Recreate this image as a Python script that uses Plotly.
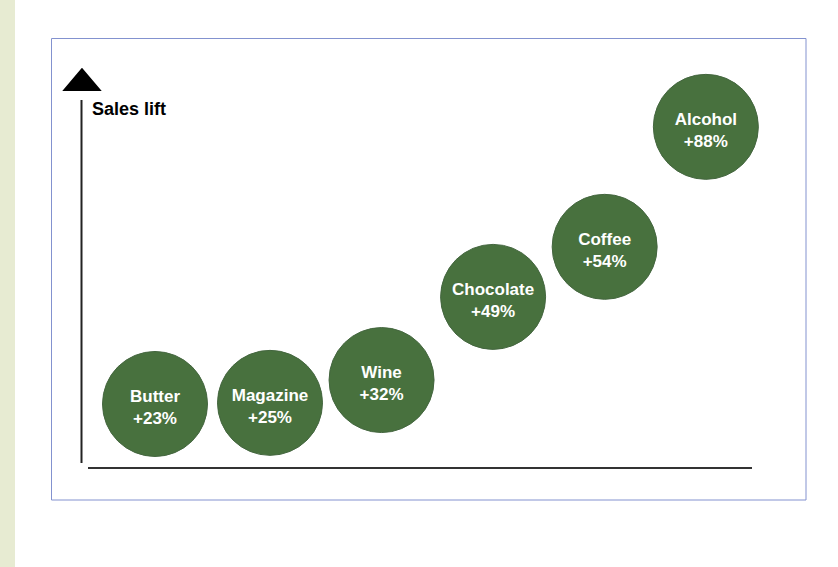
import plotly.graph_objects as go

# ---- data ----
categories = ["Butter", "Magazine", "Wine", "Chocolate", "Coffee", "Alcohol"]
lift_pct = [23, 25, 32, 49, 54, 88]
# position of each bubble along the (unscaled) axes
x_level = [1.0, 2.0, 2.97, 3.94, 4.91, 5.79]
y_level = [17.4, 17.7, 23.9, 46.5, 60.1, 92.7]
y_title = "Sales lift"

W, H = 838, 567
Y_PX = 3.68  # pixels per y unit
TEXT_SHIFT = 5 / Y_PX  # labels sit a little below bubble centre


def px(x):
    return x / W


def py(y):
    return 1 - y / H


labels = [f"<b>{c}</b><br><b>+{v}%</b>" for c, v in zip(categories, lift_pct)]

fig = go.Figure()
fig.add_trace(go.Scatter(
    x=x_level, y=y_level, mode="markers",
    marker=dict(size=105, color="#48713e", line=dict(width=1, color="#44663f")),
    hoverinfo="skip", cliponaxis=False,
))
fig.add_trace(go.Scatter(
    x=x_level, y=[v - TEXT_SHIFT for v in y_level], mode="text",
    text=labels, textposition="middle center",
    textfont=dict(family="Liberation Sans, Arial, sans-serif", size=17, color="white"),
    hoverinfo="skip", cliponaxis=False,
))

shapes = [
    # left page strip
    dict(type="rect", xref="paper", yref="paper", x0=px(0), x1=px(15), y0=py(0), y1=py(H),
         fillcolor="#e7ebd2", line=dict(width=0), layer="below"),
    # frame
    dict(type="rect", xref="paper", yref="paper", x0=px(51.5), x1=px(806), y0=py(38.5), y1=py(500),
         fillcolor="rgba(0,0,0,0)", line=dict(width=1, color="#8392cf"), layer="below"),
    # y axis line
    dict(type="line", xref="paper", yref="paper", x0=px(81.5), x1=px(81.5), y0=py(100), y1=py(463),
         line=dict(width=2, color="#222222")),
    # x axis line
    dict(type="line", xref="paper", yref="paper", x0=px(88), x1=px(752), y0=py(468), y1=py(468),
         line=dict(width=2, color="#333333")),
    # arrow head
    dict(type="path", xref="paper", yref="paper",
         path=(f"M {px(82)} {py(70)} L {px(65.5)} {py(89.5)} L {px(98.5)} {py(89.5)} Z"),
         fillcolor="black", line=dict(width=3, color="black")),
]

fig.update_layout(
    width=W, height=H,
    margin=dict(l=0, r=0, t=0, b=0),
    paper_bgcolor="white", plot_bgcolor="rgba(0,0,0,0)",
    showlegend=False,
    xaxis=dict(range=[-40 / 115, (W - 40) / 115], visible=False, fixedrange=True),
    yaxis=dict(range=[(468 - H) / Y_PX, 468 / Y_PX], visible=False, fixedrange=True),
    shapes=shapes,
    annotations=[dict(
        xref="paper", yref="paper", x=px(90), y=py(109), xanchor="left", yanchor="middle",
        text=f"<b>{y_title}</b>", showarrow=False,
        font=dict(family="Liberation Sans, Arial, sans-serif", size=18, color="black"),
    )],
)

fig.write_html("out.html")
